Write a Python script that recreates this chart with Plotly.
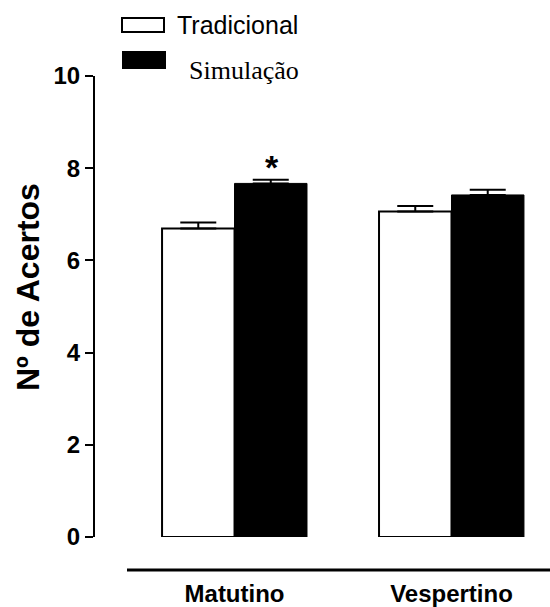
import plotly.graph_objects as go

# ---- data ----
categories = ["Matutino", "Vespertino"]
series_names = ["Tradicional", "Simulação"]
tradicional = [6.69, 7.06]
tradicional_err = [0.13, 0.12]
simulacao = [7.67, 7.42]
simulacao_err = [0.08, 0.11]
y_ticks = [0, 2, 4, 6, 8, 10]
y_title = "Nº de Acertos"
significance = "*"

W, H = 550, 607
L, R, T, B = 95, 0, 76, 70
PW, PH = W - L - R, H - T - B

def px(xp):
    return (xp - L) / PW

def py(yp):
    return (H - B - yp) / PH

fig = go.Figure()
fig.add_trace(go.Bar(
    x=categories, y=tradicional, name=series_names[0],
    marker=dict(color="white", line=dict(color="black", width=2)),
    error_y=dict(type="data", array=tradicional_err, symmetric=False, arrayminus=[0, 0],
                 color="black", thickness=2, width=18),
))
fig.add_trace(go.Bar(
    x=categories, y=simulacao, name=series_names[1],
    marker=dict(color="black", line=dict(color="black", width=1)),
    error_y=dict(type="data", array=simulacao_err, symmetric=False, arrayminus=[0, 0],
                 color="black", thickness=2, width=18),
))

bold = dict(family="Liberation Sans, Arial, sans-serif", color="black", weight="bold")

fig.update_layout(
    width=W, height=H,
    margin=dict(l=L, r=R, t=T, b=B, pad=0),
    paper_bgcolor="white", plot_bgcolor="white",
    barmode="group", bargap=0.332, bargroupgap=0,
    showlegend=False,
    xaxis=dict(
        range=[-0.643, 1.454], showline=False, showgrid=False, zeroline=False,
        ticks="", ticklabelstandoff=40,
        tickfont=dict(size=24, **bold),
    ),
    yaxis=dict(
        range=[0, 10], tickvals=y_ticks, showline=True, linecolor="black", linewidth=2,
        ticks="outside", ticklen=8, tickwidth=2, tickcolor="black",
        showgrid=False, zeroline=False,
        tickfont=dict(size=24, **bold),
    ),
)

# y-axis title placed as in the reference (slightly above the plot centre)
fig.add_annotation(xref="paper", yref="paper", x=px(28), y=py(287), text=y_title,
                   textangle=-90, showarrow=False, xanchor="center", yanchor="middle",
                   font=dict(size=32, **bold))

# x-axis baseline (decorative, below plot)
fig.add_shape(type="line", xref="paper", yref="paper",
              x0=px(127), x1=1, y0=py(570), y1=py(570),
              line=dict(color="black", width=3))

# significance marker above Simulação Matutino
fig.add_annotation(x=categories[0], y=simulacao[0] + simulacao_err[0], xref="x", yref="y",
                   text=significance, showarrow=False, xshift=37, yanchor="bottom", yshift=-8,
                   font=dict(size=34, **bold))

# manual legend
fig.add_shape(type="rect", xref="paper", yref="paper",
              x0=px(122), x1=px(164), y0=py(32), y1=py(18),
              fillcolor="white", line=dict(color="black", width=2))
fig.add_shape(type="rect", xref="paper", yref="paper",
              x0=px(122), x1=px(166), y0=py(69), y1=py(51),
              fillcolor="black", line=dict(color="black", width=0))
fig.add_annotation(xref="paper", yref="paper", x=px(175), y=py(25), text=series_names[0],
                   showarrow=False, xanchor="left", yanchor="middle",
                   font=dict(family="Liberation Sans, Arial, sans-serif", size=25, color="black"))
fig.add_annotation(xref="paper", yref="paper", x=px(187), y=py(70), text=series_names[1],
                   showarrow=False, xanchor="left", yanchor="middle",
                   font=dict(family="Liberation Serif, Times New Roman, serif", size=26, color="black"))

fig.write_html("out.html", config={"displayModeBar": False})

# remove default browser body margin so the figure sits at the window origin
with open("out.html", encoding="utf-8") as f:
    html = f.read()
html = html.replace("<head>", "<head><style>html,body{margin:0;padding:0;overflow:hidden;}</style>", 1)
with open("out.html", "w", encoding="utf-8") as f:
    f.write(html)
